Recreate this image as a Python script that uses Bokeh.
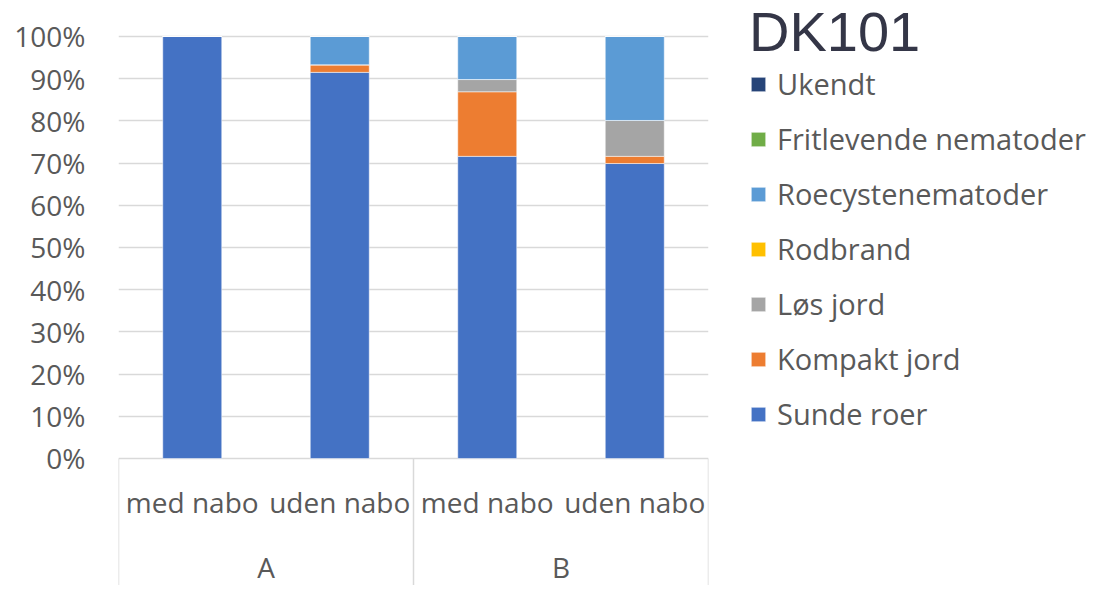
from bokeh.plotting import figure
from bokeh.models import (FactorRange, Range1d, ColumnDataSource, FixedTicker,
                          NumeralTickFormatter, Legend, LegendItem)
from bokeh.core.properties import value
from bokeh.embed import file_html
from bokeh.resources import INLINE

# ---------------- data ----------------
groups = ["A", "B"]
subgroups = ["med nabo", "uden nabo"]
series = ["Sunde roer", "Kompakt jord", "Løs jord", "Rodbrand",
          "Roecystenematoder", "Fritlevende nematoder", "Ukendt"]
colors = ["#4472C4", "#ED7D31", "#A5A5A5", "#FFC000",
          "#5B9BD5", "#70AD47", "#264478"]

sunde_roer = [1.000, 0.915, 0.716, 0.699]
kompakt_jord = [0.000, 0.018, 0.153, 0.017]
los_jord = [0.000, 0.000, 0.029, 0.085]
rodbrand = [0.000, 0.000, 0.000, 0.000]
roecystenematoder = [0.000, 0.067, 0.102, 0.199]
fritlevende_nematoder = [0.000, 0.000, 0.000, 0.000]
ukendt = [0.000, 0.000, 0.000, 0.000]

y_ticks = [0.0, 0.1, 0.2, 0.3, 0.4, 0.5, 0.6, 0.7, 0.8, 0.9, 1.0]
title_text = "DK101"

# ---------------- build ----------------
factors = [(g, s) for g in groups for s in subgroups]
values = [sunde_roer, kompakt_jord, los_jord, rodbrand,
          roecystenematoder, fritlevende_nematoder, ukendt]
data = {"x": factors}
for name, vals in zip(series, values):
    data[name] = vals
source = ColumnDataSource(data)

TEXT = "#595959"
GRID = "#d9d9d9"
FONT = "Open Sans"

y_start, y_end = -0.30095, 1.0853
x_range = FactorRange(factors=factors, factor_padding=0, subgroup_padding=0,
                      group_padding=0, range_padding=0)
p = figure(x_range=x_range, y_range=Range1d(y_start, y_end),
           frame_width=590, frame_height=585,
           min_border_left=118, min_border_right=0, min_border_top=0,
           min_border_bottom=0, x_axis_location=None,
           output_backend="svg", toolbar_location=None)
p.outline_line_color = None

yax = p.yaxis[0]
yax.ticker = FixedTicker(ticks=y_ticks)
yax.formatter = NumeralTickFormatter(format="0%")
yax.axis_line_color = None
yax.major_tick_line_color = None
yax.minor_tick_line_color = None
yax.major_tick_out = 0
yax.minor_tick_out = 0
yax.major_label_standoff = 33
yax.major_label_text_font = FONT
yax.major_label_text_font_size = "28px"
yax.major_label_text_color = TEXT

p.xgrid.visible = False
p.ygrid.ticker = FixedTicker(ticks=y_ticks)
p.ygrid.grid_line_color = GRID
p.ygrid.grid_line_width = 1.5

rs = p.vbar_stack(series, x="x", width=0.4, fill_color=colors, source=source,
                  line_color="white", line_alpha=0.5, line_width=1)

# category-axis separators (Excel style multi-level axis)
n_sub = len(subgroups)
sep_x = [i * n_sub for i in range(len(groups) + 1)]
p.segment(x0=sep_x, y0=[0] * len(sep_x), x1=sep_x, y1=[y_start] * len(sep_x),
          line_color=GRID, line_width=1.5)

sub_src = ColumnDataSource(dict(x=factors, y=[-0.104] * len(factors),
                                text=[s for (g, s) in factors]))
p.text(x="x", y="y", text="text", source=sub_src, text_align="center",
       text_baseline="middle", text_font=value(FONT),
       text_font_size=value("28px"), text_color=TEXT)
grp_src = ColumnDataSource(dict(x=groups, y=[-0.256] * len(groups), text=groups))
p.text(x="x", y="y", text="text", source=grp_src, text_align="center",
       text_baseline="middle", text_font=value(FONT),
       text_font_size=value("28px"), text_color=TEXT)

items = [LegendItem(label=name, renderers=[r]) for name, r in zip(series, rs)][::-1]
legend = Legend(items=items, location=(41, 152), title=title_text, margin=25,
                padding=0, spacing=16, label_standoff=10,
                glyph_width=18, glyph_height=18,
                label_text_font=FONT, label_text_font_size="29px",
                label_text_color=TEXT,
                title_text_font="Liberation Sans", title_text_font_size="56px",
                title_text_font_style="normal", title_text_color="#343647",
                title_standoff=-20,
                border_line_color=None, background_fill_alpha=0)
p.add_layout(legend, "right")

open("out.html", "w").write(file_html(p, INLINE))
